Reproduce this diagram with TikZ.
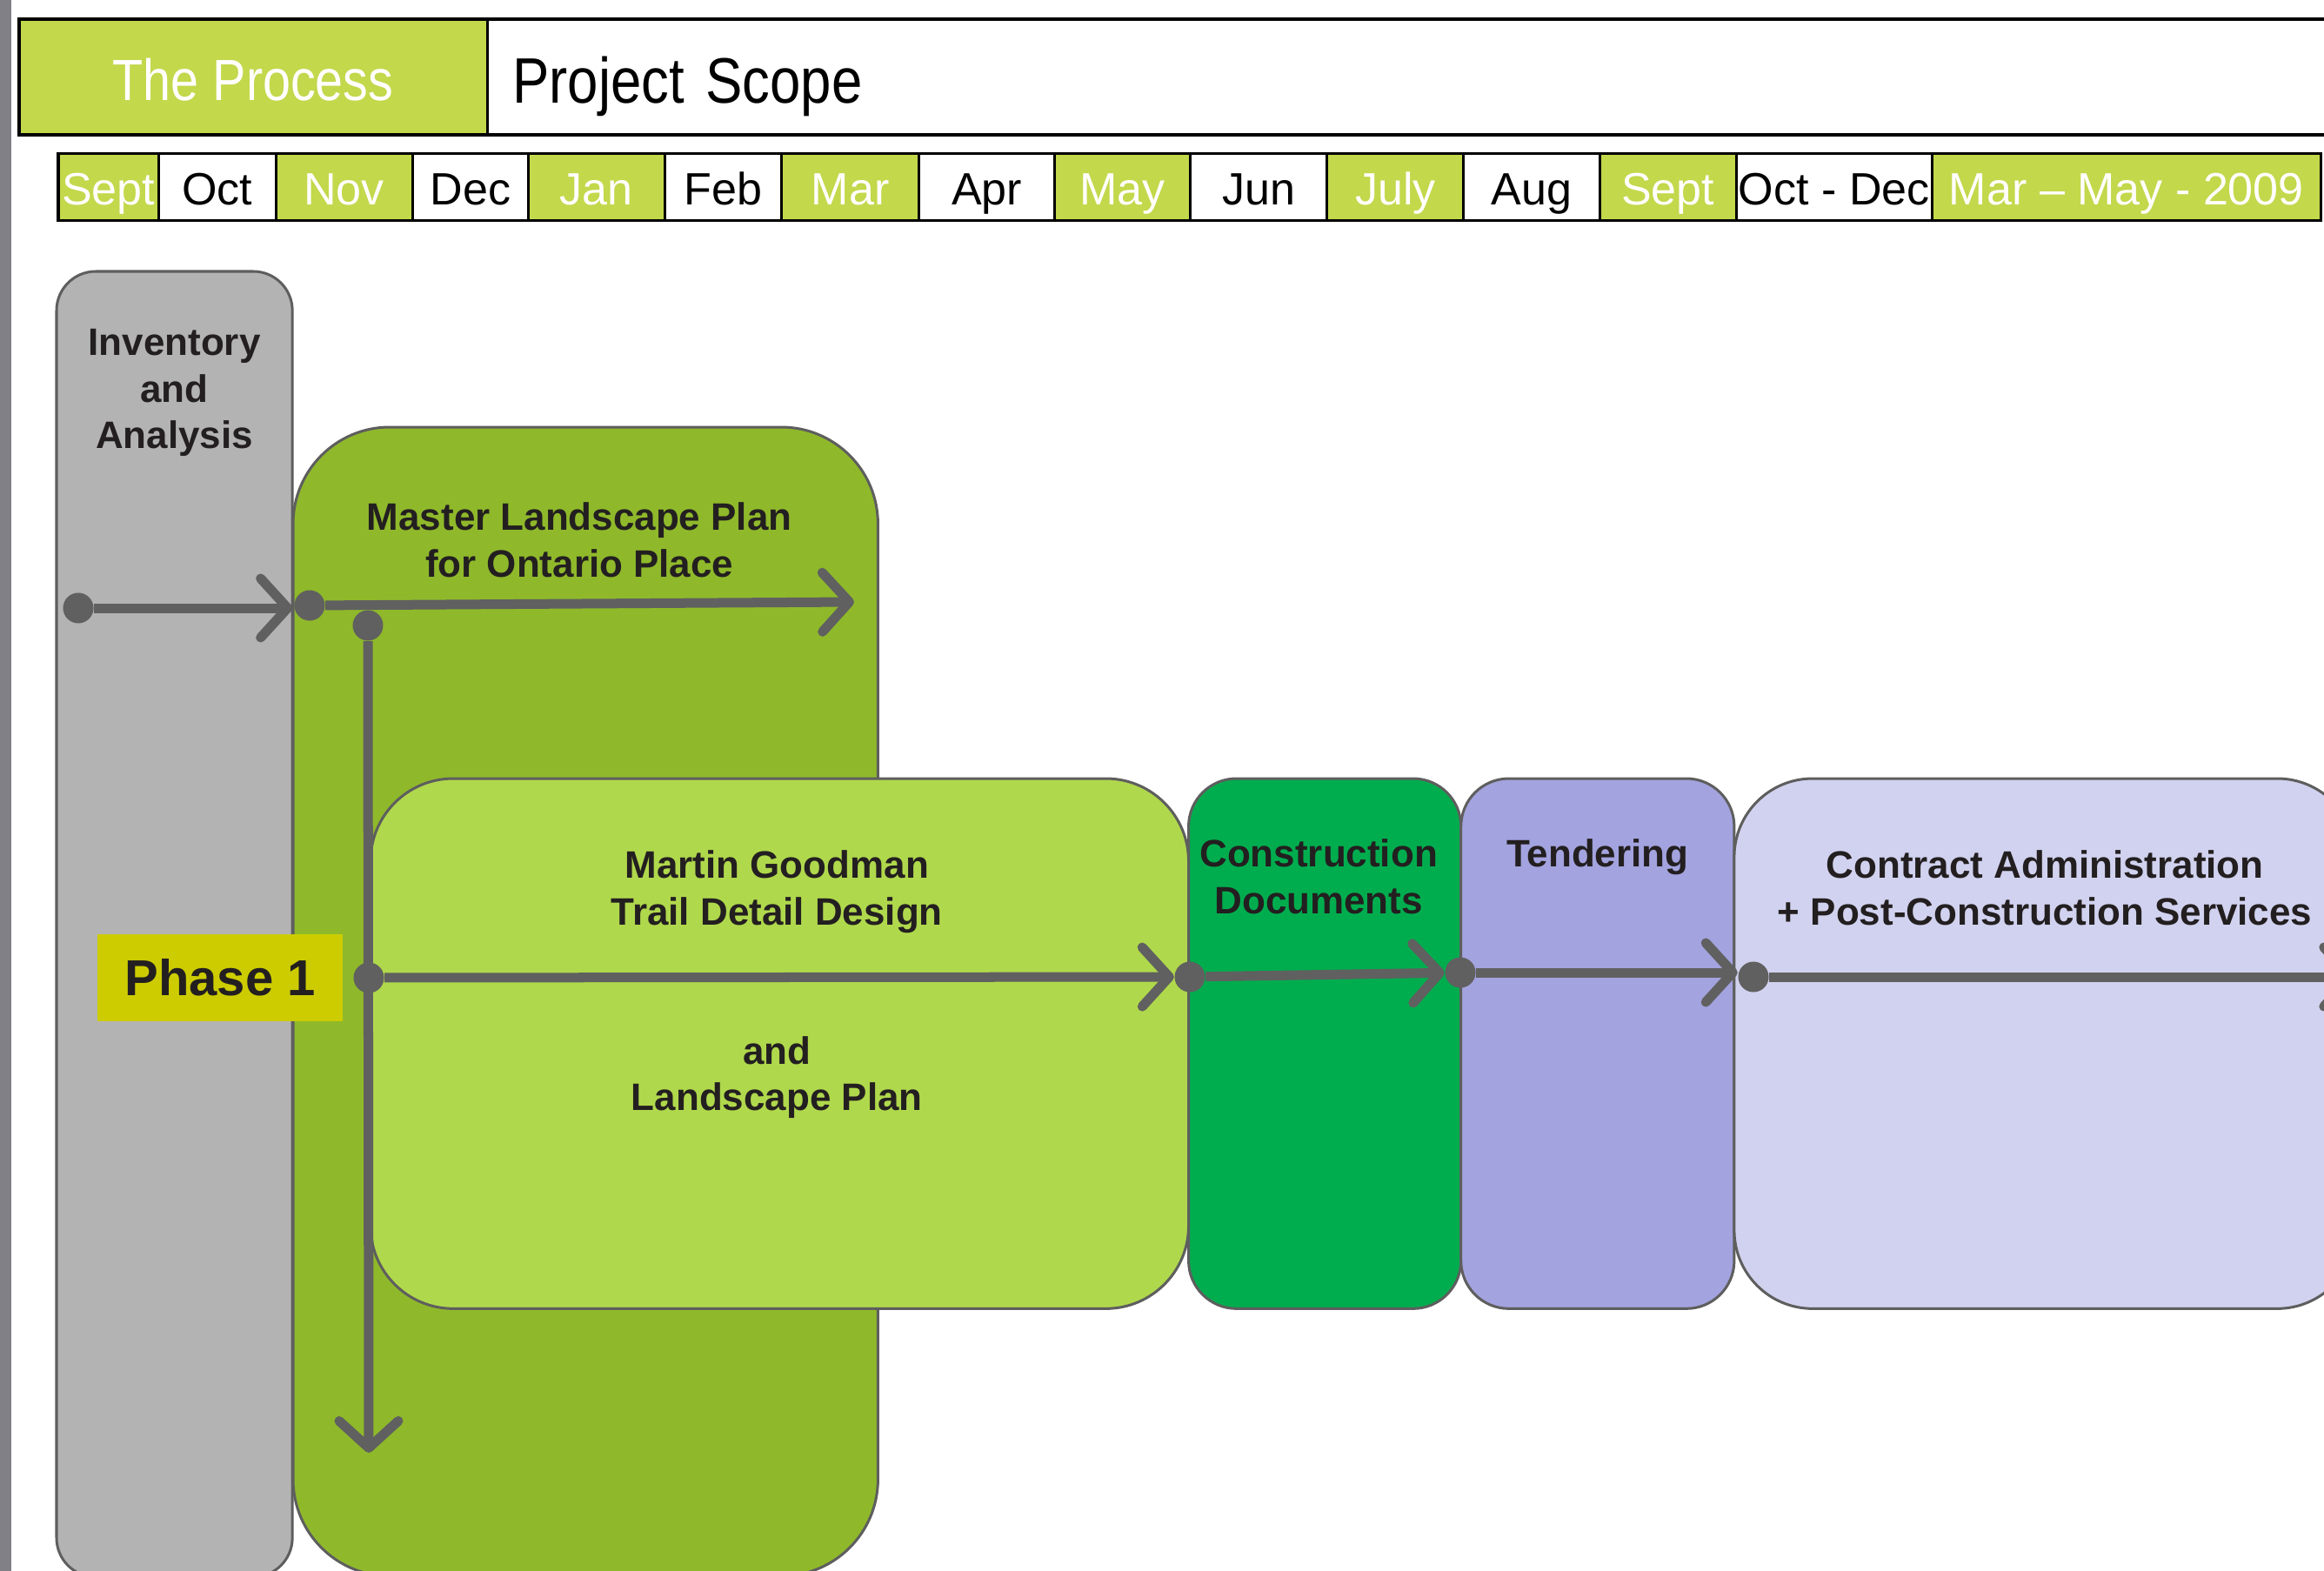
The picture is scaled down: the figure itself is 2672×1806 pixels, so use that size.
\documentclass[tikz,border=0pt]{standalone}
\usepackage{fontspec}
\setmainfont{Liberation Sans}
\setsansfont{Liberation Sans}
\newfontfamily\narrowsans[FakeStretch=0.86]{Liberation Sans}
\usetikzlibrary{positioning, arrows.meta}

\definecolor{headlime}{HTML}{C3D84B}
\definecolor{stripgray}{HTML}{808086}
\definecolor{edgegray}{HTML}{5E5E5E}
\definecolor{flowgray}{HTML}{606060}
\definecolor{inkblack}{HTML}{231F20}
\definecolor{invgray}{HTML}{B3B3B3}
\definecolor{masterolive}{HTML}{8FB92B}
\definecolor{traillime}{HTML}{B0D84C}
\definecolor{docsgreen}{HTML}{00AD4E}
\definecolor{tenderlilac}{HTML}{A3A3DF}
\definecolor{contractlilac}{HTML}{D1D2EF}
\definecolor{phaseyellow}{HTML}{CCCC00}

\begin{document}
\begin{tikzpicture}[
    x=0.01cm, y=-0.01cm,
    font=\sffamily,
    headcell/.style={
        rectangle, draw=black, line width=0.035cm,
        minimum height=1.33cm, inner sep=0pt, outer sep=0pt, text depth=0pt
    },
    month/.style={
        rectangle, draw=black, line width=0.03cm,
        minimum height=0.76cm, inner sep=0pt, outer sep=0pt,
        text height=0.4cm, text depth=0pt,
        font=\fontsize{14.8}{17}\selectfont
    },
    monthlime/.style={month, fill=headlime, text=white},
    monthwhite/.style={month, fill=white, text=black},
    stage/.style={
        rectangle, draw=edgegray, line width=0.03cm,
        minimum height=6.09cm, inner sep=0pt, outer sep=0pt
    },
    stagelabel/.style={
        inner sep=0pt, align=center, text=inkblack,
        font=\fontsize{12.5}{15.2}\selectfont\bfseries
    },
    phasebox/.style={
        rectangle, fill=phaseyellow, text=inkblack,
        minimum width=2.82cm, minimum height=0.99cm, inner sep=0pt,
        font=\fontsize{16.5}{19}\selectfont\bfseries
    },
    dot/.style={circle, fill=flowgray, inner sep=0pt, minimum size=0.35cm},
    flow/.style={draw=flowgray, line width=0.11cm, -{Straight Barb[length=3.1mm, width=6.8mm, round]}}
]

\useasboundingbox (0,0) rectangle (2672,1806);
\fill[stripgray] (0,0) rectangle (13,1806);

% ============ Title bar ============
\node[headcell, fill=headlime, text=white, minimum width=5.38cm, anchor=north west,
      text height=0.53cm, font=\narrowsans\fontsize{19}{23}\selectfont] (process) at (22,22) {The Process};
\node[headcell, fill=white, right=0pt of process, text width=20.82cm, inner xsep=0.29cm,
      text height=0.59cm, align=left, font=\narrowsans\fontsize{21}{25}\selectfont] (scope) {Project Scope};

% ============ Months ============
\node[monthlime, minimum width=1.15cm, anchor=north west] (sept1) at (67,177) {Sept};
\node[monthwhite, minimum width=1.35cm, right=0pt of sept1] (oct1) {Oct};
\node[monthlime, minimum width=1.57cm, right=0pt of oct1] (nov) {Nov};
\node[monthwhite, minimum width=1.33cm, right=0pt of nov] (dec) {Dec};
\node[monthlime, minimum width=1.57cm, right=0pt of dec] (jan) {Jan};
\node[monthwhite, minimum width=1.34cm, right=0pt of jan] (feb) {Feb};
\node[monthlime, minimum width=1.58cm, right=0pt of feb] (mar) {Mar};
\node[monthwhite, minimum width=1.56cm, right=0pt of mar] (apr) {Apr};
\node[monthlime, minimum width=1.56cm, right=0pt of apr] (may) {May};
\node[monthwhite, minimum width=1.57cm, right=0pt of may] (jun) {Jun};
\node[monthlime, minimum width=1.57cm, right=0pt of jun] (jul) {July};
\node[monthwhite, minimum width=1.56cm, right=0pt of jul] (aug) {Aug};
\node[monthlime, minimum width=1.57cm, right=0pt of aug] (sept2) {Sept};
\node[monthwhite, minimum width=2.25cm, right=0pt of sept2] (octdec) {Oct - Dec};
\node[monthlime, minimum width=4.47cm, right=0pt of octdec] (spring) {Mar – May - 2009};

% ============ Stages ============
\node[stage, fill=invgray, minimum width=2.71cm, minimum height=15cm,
      rounded corners=0.45cm, anchor=north west] (inv) at (65,312) {};
\node[stage, fill=masterolive, minimum width=6.72cm, minimum height=13.2cm,
      rounded corners=1.11cm, anchor=north west] (master) at (337,491) {};
\node[stage, fill=traillime, minimum width=9.4cm,
      rounded corners=0.95cm, anchor=north west] (trail) at (426,895) {};
\node[stage, fill=docsgreen, minimum width=3.13cm,
      rounded corners=0.55cm, right=0pt of trail] (docs) {};
\node[stage, fill=tenderlilac, minimum width=3.14cm,
      rounded corners=0.55cm, right=0pt of docs] (tender) {};
\node[stage, fill=contractlilac, minimum width=7.14cm,
      rounded corners=0.9cm, right=0pt of tender] (contract) {};

\node[stagelabel, below=0.66cm of inv.north] (inv-text) {Inventory\\and\\Analysis};
\node[stagelabel, below=0.86cm of master.north, xshift=-0.07cm] (master-text) {Master Landscape Plan\\for Ontario Place};
\node[stagelabel, below=0.82cm of trail.north, xshift=-0.03cm] (trail-text)
    {Martin Goodman\\Trail Detail Design\\[30.4pt]and\\Landscape Plan};
\node[stagelabel, below=0.69cm of docs.north, xshift=-0.07cm] (docs-text) {Construction\\Documents};
\node[stagelabel, below=0.69cm of tender.north] (tender-text) {Tendering};
\node[stagelabel, below=0.82cm of contract.north] (contract-text) {Contract Administration\\+ Post-Construction Services};

\node[phasebox] (phase) at (253,1124) {Phase 1};

% ============ Flow ============
\node[dot] (ia-dot) at (90,699) {};
\node[dot] (ml-dot) at (356,696) {};
\node[dot] (down-dot) at (423,719) {};
\node[dot] (ph-dot) at (424,1124) {};
\node[dot] (cd-dot) at (1368,1123) {};
\node[dot] (tn-dot) at (1679,1118) {};
\node[dot] (ca-dot) at (2016,1123) {};
\coordinate (ml-end) at (982,692);
\coordinate (down-end) at (424,1670);

\draw[flow] (ia-dot) -- (ia-dot -| inv.east);
\draw[flow] (ml-dot) -- (ml-end);
\draw[flow] (down-dot) -- (down-end);
\draw[flow] (ph-dot) -- (cd-dot);
\draw[flow] (cd-dot) -- (tn-dot);
\draw[flow] (tn-dot) -- (tn-dot -| ca-dot.west);
\draw[flow] (ca-dot) -- (ca-dot -| contract.east);

\end{tikzpicture}
\end{document}
